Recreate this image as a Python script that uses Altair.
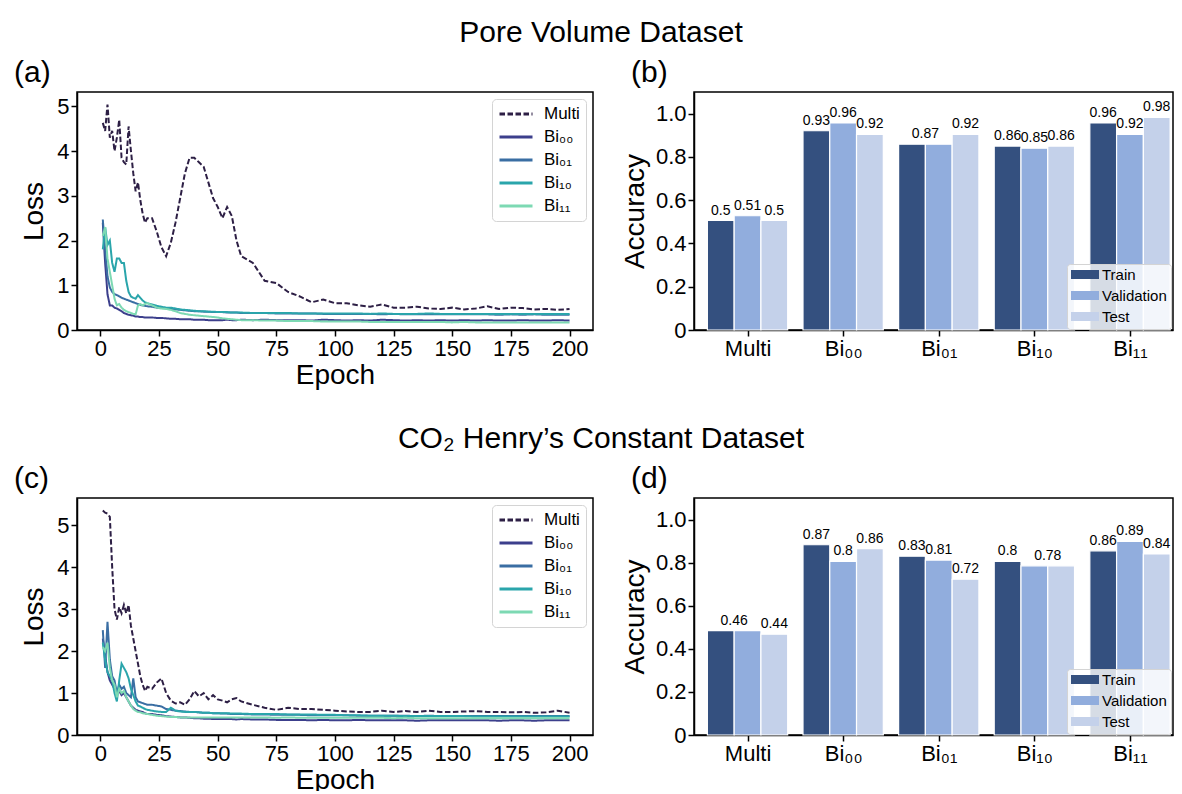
import altair as alt
import pandas as pd

FONT = "Liberation Sans"

SERIES = ["Multi", "Bi\u2080\u2080", "Bi\u2080\u2081", "Bi\u2081\u2080", "Bi\u2081\u2081"]
LINE_COLORS = ["#2d1f45", "#3c3f8c", "#3a6ea3", "#2aa5ab", "#7dd9b3"]
LINE_DASHES = [[5.5, 2.5], [1, 0], [1, 0], [1, 0], [1, 0]]

EPOCHS = list(range(1, 21)) + list(range(22, 61, 2)) + list(range(65, 201, 5))

# ---- Pore Volume dataset: loss curves ----
PV_MULTI = [
    4.63, 4.45, 5.04, 4.3, 4.45, 4.0, 4.3, 4.7, 3.85, 3.75, 3.7, 4.55, 4.0, 3.5, 3.1, 3.3, 2.9, 2.6, 2.4, 2.5,
    2.5, 2.2, 1.85, 1.65, 1.95, 2.4, 2.95, 3.5, 3.85, 3.85, 3.75, 3.65, 3.3, 2.95, 2.75, 2.5, 2.75, 2.55, 2.0, 1.65,
    1.5, 1.1, 1.05, 0.85, 0.75, 0.62, 0.68, 0.6, 0.6, 0.55, 0.52, 0.57, 0.5, 0.5, 0.52, 0.48, 0.47, 0.5, 0.46, 0.48,
    0.53, 0.47, 0.5, 0.49, 0.46, 0.47, 0.45, 0.47,
]
PV_BI00 = [
    2.4, 1.5, 0.8, 0.55, 0.55, 0.5, 0.48, 0.45, 0.42, 0.38, 0.36, 0.34, 0.33, 0.32, 0.3, 0.3, 0.29, 0.29, 0.28, 0.28,
    0.28, 0.27, 0.27, 0.26, 0.25, 0.25, 0.24, 0.24, 0.24, 0.23, 0.23, 0.23, 0.22, 0.22, 0.22, 0.22, 0.23, 0.22, 0.22, 0.23,
    0.22, 0.23, 0.22, 0.22, 0.22, 0.21, 0.23, 0.22, 0.21, 0.22, 0.21, 0.23, 0.22, 0.21, 0.22, 0.21, 0.22, 0.21, 0.22, 0.21,
    0.22, 0.21, 0.21, 0.22, 0.21, 0.21, 0.22, 0.21,
]
PV_BI01 = [
    2.47, 1.8, 1.2, 0.95, 0.85, 0.8, 0.78, 0.75, 0.72, 0.7, 0.68, 0.66, 0.64, 0.62, 0.6, 0.58, 0.56, 0.55, 0.54, 0.53,
    0.52, 0.5, 0.5, 0.48, 0.47, 0.46, 0.45, 0.44, 0.43, 0.42, 0.42, 0.41, 0.41, 0.4, 0.4, 0.4, 0.39, 0.39, 0.39, 0.38,
    0.38, 0.38, 0.37, 0.37, 0.37, 0.37, 0.36, 0.36, 0.36, 0.36, 0.36, 0.35, 0.36, 0.35, 0.35, 0.35, 0.35, 0.35, 0.35, 0.35,
    0.35, 0.34, 0.35, 0.34, 0.35, 0.34, 0.34, 0.34,
]
PV_BI10 = [
    1.8, 2.3, 1.9, 2.0, 1.5, 1.3, 1.6, 1.6, 1.5, 1.5, 1.1, 0.85, 0.75, 0.72, 0.7, 0.78, 0.72, 0.66, 0.62, 0.6,
    0.57, 0.54, 0.52, 0.5, 0.5, 0.48, 0.46, 0.45, 0.44, 0.43, 0.42, 0.42, 0.41, 0.41, 0.4, 0.4, 0.4, 0.39, 0.39, 0.39,
    0.38, 0.38, 0.38, 0.38, 0.37, 0.37, 0.37, 0.37, 0.37, 0.37, 0.36, 0.37, 0.36, 0.36, 0.36, 0.37, 0.36, 0.36, 0.36, 0.36,
    0.36, 0.36, 0.36, 0.36, 0.36, 0.36, 0.36, 0.36,
]
PV_BI11 = [
    2.1, 2.3, 1.6, 1.3, 1.0, 0.7, 0.55, 0.58, 0.5, 0.45, 0.42, 0.4, 0.38, 0.36, 0.35, 0.55, 0.58, 0.55, 0.58, 0.6,
    0.55, 0.5, 0.48, 0.47, 0.45, 0.42, 0.38, 0.36, 0.34, 0.33, 0.32, 0.31, 0.3, 0.29, 0.28, 0.26, 0.25, 0.24, 0.23, 0.22,
    0.22, 0.21, 0.21, 0.2, 0.2, 0.2, 0.19, 0.19, 0.19, 0.19, 0.18, 0.18, 0.18, 0.18, 0.18, 0.18, 0.18, 0.17, 0.18, 0.17,
    0.17, 0.17, 0.17, 0.17, 0.17, 0.17, 0.17, 0.17,
]

# ---- CO2 Henry's constant dataset: loss curves ----
CO_MULTI = [
    5.35, 5.3, 5.28, 5.2, 4.0, 3.0, 2.75, 3.05, 2.9, 3.1, 2.9, 3.1, 2.6, 2.3, 2.0, 1.7, 1.4, 1.2, 1.05, 1.15,
    1.1, 1.25, 1.35, 1.0, 0.82, 0.75, 0.78, 0.72, 0.85, 1.05, 0.92, 1.0, 0.85, 0.95, 0.85, 0.82, 0.78, 0.85, 0.88, 0.8,
    0.72, 0.65, 0.6, 0.65, 0.62, 0.62, 0.6, 0.58, 0.56, 0.55, 0.55, 0.58, 0.55, 0.57, 0.55, 0.58, 0.55, 0.55, 0.56, 0.57,
    0.55, 0.55, 0.54, 0.55, 0.53, 0.54, 0.58, 0.53,
]
CO_BI00 = [
    2.3, 1.9, 1.5, 1.3, 1.2, 1.1, 1.0, 1.05, 0.95, 1.0, 0.9, 0.8, 0.7, 0.65, 0.6, 0.58, 0.56, 0.55, 0.52, 0.5,
    0.5, 0.48, 0.47, 0.45, 0.44, 0.43, 0.42, 0.42, 0.41, 0.4, 0.4, 0.39, 0.39, 0.38, 0.38, 0.38, 0.38, 0.38, 0.37, 0.38,
    0.37, 0.37, 0.36, 0.36, 0.36, 0.35, 0.36, 0.35, 0.35, 0.36, 0.35, 0.35, 0.35, 0.35, 0.34, 0.35, 0.35, 0.35, 0.35, 0.35,
    0.35, 0.34, 0.35, 0.35, 0.34, 0.35, 0.35, 0.35,
]
CO_BI01 = [
    2.5, 1.6, 2.7, 1.8, 1.4, 1.3, 1.0, 1.2, 1.1, 1.15, 1.0, 0.95, 0.9, 1.35, 0.9, 0.8, 0.78, 0.76, 0.74, 0.72,
    0.72, 0.7, 0.68, 0.62, 0.6, 0.58, 0.57, 0.56, 0.55, 0.55, 0.54, 0.53, 0.53, 0.52, 0.52, 0.51, 0.51, 0.5, 0.5, 0.5,
    0.49, 0.49, 0.48, 0.48, 0.48, 0.47, 0.47, 0.47, 0.47, 0.46, 0.46, 0.46, 0.46, 0.46, 0.45, 0.46, 0.45, 0.45, 0.45, 0.45,
    0.45, 0.45, 0.45, 0.45, 0.45, 0.45, 0.45, 0.45,
]
CO_BI10 = [
    2.2, 1.8, 1.5, 1.4, 1.3, 1.0, 0.8, 1.3, 1.7, 1.6, 1.5, 1.35, 1.1, 0.95, 0.8, 0.7, 0.68, 0.65, 0.62, 0.6,
    0.58, 0.56, 0.55, 0.55, 0.65, 0.58, 0.56, 0.55, 0.55, 0.55, 0.54, 0.53, 0.53, 0.52, 0.52, 0.52, 0.52, 0.51, 0.51, 0.51,
    0.5, 0.5, 0.5, 0.49, 0.49, 0.49, 0.48, 0.48, 0.47, 0.47, 0.46, 0.46, 0.46, 0.45, 0.45, 0.45, 0.45, 0.45, 0.45, 0.44,
    0.44, 0.44, 0.44, 0.44, 0.44, 0.44, 0.44, 0.44,
]
CO_BI11 = [
    2.1, 2.0, 2.2, 1.6, 1.3, 1.2, 0.9, 1.1, 1.0, 1.05, 0.9, 0.8, 0.7, 0.62, 0.58, 0.55, 0.54, 0.52, 0.51, 0.5,
    0.48, 0.46, 0.45, 0.44, 0.43, 0.43, 0.42, 0.42, 0.42, 0.42, 0.42, 0.42, 0.42, 0.42, 0.42, 0.42, 0.42, 0.42, 0.42, 0.42,
    0.42, 0.42, 0.41, 0.42, 0.41, 0.41, 0.41, 0.41, 0.41, 0.41, 0.41, 0.41, 0.4, 0.41, 0.4, 0.4, 0.4, 0.4, 0.4, 0.4,
    0.4, 0.4, 0.4, 0.4, 0.4, 0.4, 0.4, 0.4,
]

# ---- accuracies ----
MODELS = ["Multi", "Bi\u2080\u2080", "Bi\u2080\u2081", "Bi\u2081\u2080", "Bi\u2081\u2081"]
SPLITS = ["Train", "Validation", "Test"]
BAR_COLORS = ["#34507f", "#91addd", "#c4d1ea"]

PV_TRAIN = [0.506, 0.921, 0.859, 0.850, 0.957]
PV_VAL = [0.528, 0.957, 0.859, 0.840, 0.904]
PV_TEST = [0.506, 0.904, 0.904, 0.850, 0.983]
PV_TRAIN_LBL = ["0.5", "0.93", "0.87", "0.86", "0.96"]
PV_VAL_LBL = ["0.51", "0.96", "0.87", "0.85", "0.92"]
PV_TEST_LBL = ["0.5", "0.92", "0.92", "0.86", "0.98"]

CO_TRAIN = [0.484, 0.883, 0.830, 0.806, 0.855]
CO_VAL = [0.484, 0.806, 0.812, 0.785, 0.899]
CO_TEST = [0.468, 0.865, 0.723, 0.785, 0.840]
CO_TRAIN_LBL = ["0.46", "0.87", "0.83", "0.8", "0.86"]
CO_VAL_LBL = ["0.46", "0.8", "0.81", "0.78", "0.89"]
CO_TEST_LBL = ["0.44", "0.86", "0.72", "0.78", "0.84"]

BAR_W = 0.28
LOSS_W = 516
ACC_W = 479
GAP = 101


def title_tag(tag):
    return alt.TitleParams(text=tag, anchor="start", frame="group", dx=-63, offset=4,
                           fontSize=30, font=FONT, fontWeight="normal", color="black")


def loss_panel(values, ymax, h, tag):
    rows = [{"Epoch": e, "Loss": v, "model": m}
            for m, vals in zip(SERIES, values) for e, v in zip(EPOCHS, vals)]
    df = pd.DataFrame(rows)
    leg = alt.Legend(title=None, orient="top-right", offset=7, symbolType="stroke",
                     symbolSize=1089, symbolStrokeWidth=3, clipHeight=18, rowPadding=5,
                     labelFont=FONT, labelFontSize=17, labelColor="black", labelOffset=10,
                     padding=6, fillColor="white", strokeColor="#d4d4d4", cornerRadius=4)
    return alt.Chart(df).mark_line(strokeWidth=2).encode(
        x=alt.X("Epoch:Q", scale=alt.Scale(domain=[-10, 210], nice=False, zero=False),
                axis=alt.Axis(values=list(range(0, 201, 25)), title="Epoch", titlePadding=2)),
        y=alt.Y("Loss:Q", scale=alt.Scale(domain=[0, ymax], nice=False),
                axis=alt.Axis(values=[0, 1, 2, 3, 4, 5], title="Loss", titlePadding=8)),
        color=alt.Color("model:N", scale=alt.Scale(domain=SERIES, range=LINE_COLORS), legend=leg),
        strokeDash=alt.StrokeDash("model:N", scale=alt.Scale(domain=SERIES, range=LINE_DASHES), legend=leg),
    ).properties(width=LOSS_W, height=h, title=title_tag(tag))


def acc_panel(train, val, test, tl, vl, sl, h, tag):
    rows = []
    for mi in range(len(MODELS)):
        for si, arr in enumerate([train, val, test]):
            rows.append({"mi": mi, "si": si, "split": SPLITS[si], "acc": arr[mi]})
    bars_df = pd.DataFrame(rows)
    lab_rows = []
    for mi in range(len(MODELS)):
        labs = [tl[mi], vl[mi], sl[mi]]
        vals = [train[mi], val[mi], test[mi]]
        si = 0
        while si < 3:
            sj = si
            while sj + 1 < 3 and labs[sj + 1] == labs[si]:
                sj += 1
            lab_rows.append({"mi": mi, "si": (si + sj) / 2, "acc": max(vals[si:sj + 1]), "text": labs[si]})
            si = sj + 1
    lab_df = pd.DataFrame(lab_rows)

    names = "[" + ",".join("'" + m + "'" for m in MODELS) + "]"
    xax = alt.Axis(values=[0, 1, 2, 3, 4], labelExpr=names + "[datum.value]", title=None)
    yax = alt.Axis(values=[0, 0.2, 0.4, 0.6, 0.8, 1.0], title="Accuracy", titlePadding=6,
                   labelExpr="datum.value == 0 ? '0' : format(datum.value, '.1f')")
    xs = alt.Scale(domain=[-0.56, 4.45], nice=False, zero=False)
    ys = alt.Scale(domain=[0, 1.1], nice=False)
    leg = alt.Legend(title=None, orient="none", legendX=ACC_W - 106, legendY=h - 66,
                     symbolType="M-1,-0.33H1V0.33H-1Z", symbolSize=784, clipHeight=13, rowPadding=5,
                     symbolStrokeWidth=0, labelFont=FONT, labelFontSize=15, labelColor="black",
                     labelOffset=3, padding=4, fillColor="rgba(255,255,255,0.8)",
                     strokeColor="#d4d4d4", cornerRadius=3)

    bars = alt.Chart(bars_df).transform_calculate(
        x0=f"datum.mi + (datum.si - 1) * {BAR_W} - {BAR_W / 2}",
        x1=f"datum.mi + (datum.si - 1) * {BAR_W} + {BAR_W / 2}",
        base="0",
    ).mark_bar(stroke="white", strokeWidth=1.2).encode(
        x=alt.X("x0:Q", scale=xs, axis=xax),
        x2="x1:Q",
        y=alt.Y("acc:Q", scale=ys, axis=yax),
        y2="base:Q",
        color=alt.Color("split:N", scale=alt.Scale(domain=SPLITS, range=BAR_COLORS), legend=leg),
    )
    labels = alt.Chart(lab_df).transform_calculate(
        xc=f"datum.mi + (datum.si - 1) * {BAR_W}"
    ).mark_text(dy=-6, baseline="alphabetic", fontSize=14, font=FONT, color="black").encode(
        x=alt.X("xc:Q", scale=xs),
        y=alt.Y("acc:Q", scale=ys),
        text="text:N",
    )
    return alt.layer(bars, labels).properties(width=ACC_W, height=h, title=title_tag(tag))


def row_title(text):
    return alt.TitleParams(text=text, anchor="middle", frame="group", dx=524, offset=9,
                           fontSize=30, font=FONT, fontWeight="normal", color="black")


pa = loss_panel([PV_MULTI, PV_BI00, PV_BI01, PV_BI10, PV_BI11], 5.32, 238, "(a)")
pb = acc_panel(PV_TRAIN, PV_VAL, PV_TEST, PV_TRAIN_LBL, PV_VAL_LBL, PV_TEST_LBL, 238, "(b)")
pc = loss_panel([CO_MULTI, CO_BI00, CO_BI01, CO_BI10, CO_BI11], 5.65, 237, "(c)")
pd_ = acc_panel(CO_TRAIN, CO_VAL, CO_TEST, CO_TRAIN_LBL, CO_VAL_LBL, CO_TEST_LBL, 237, "(d)")

IND = dict(color="independent", strokeDash="independent", x="independent", y="independent")
LEG = dict(color="independent", strokeDash="independent")

row1 = alt.hconcat(pa, pb, spacing=GAP, bounds="flush").resolve_scale(**IND).resolve_legend(
    **LEG).properties(title=row_title("Pore Volume Dataset"))
row2 = alt.hconcat(pc, pd_, spacing=GAP, bounds="flush").resolve_scale(**IND).resolve_legend(
    **LEG).properties(title=row_title("CO\u2082 Henry\u2019s Constant Dataset"))

chart = alt.vconcat(row1, row2, spacing=34).resolve_scale(**IND).resolve_legend(**LEG).properties(
    padding={"left": 5, "top": 10, "right": 0, "bottom": -4}
).configure(background="white").configure_view(
    stroke="black", strokeWidth=1.5
).configure_axis(
    grid=False, domainColor="black", domainWidth=1.5, tickColor="black", tickWidth=1.5, tickSize=6,
    labelFont=FONT, labelFontSize=22, labelColor="black", labelPadding=2,
    titleFont=FONT, titleFontSize=28, titleFontWeight="normal", titleColor="black",
)

chart.save("out.html", embed_options={"renderer": "svg", "actions": False})
